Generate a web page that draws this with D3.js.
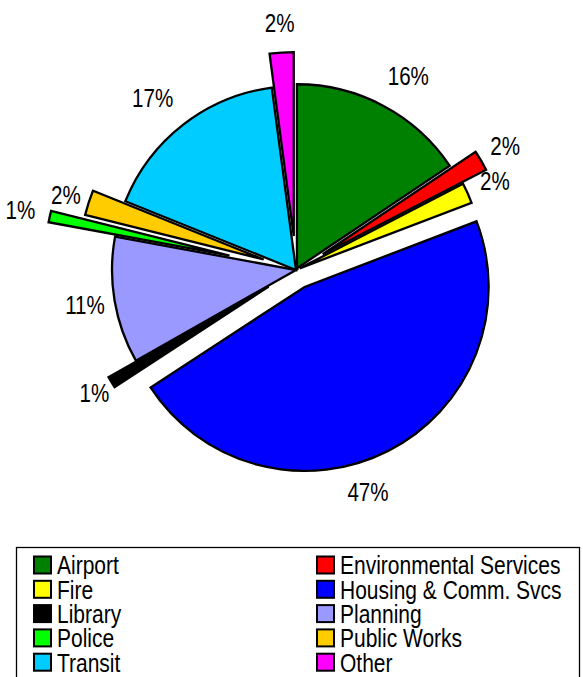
<!DOCTYPE html>
<html><head><meta charset="utf-8">
<script src="https://cdn.jsdelivr.net/npm/d3@7"></script>
<style>body{margin:0;background:#fff}svg{display:block}</style>
</head><body>
<script>
const categories = ["Airport","Environmental Services","Fire","Housing & Comm. Svcs","Library","Planning","Police","Public Works","Transit","Other"];
const values = [15.6,1.8,1.8,46.6,1.0,11.1,1.0,2.2,16.8,2.1];
const colors = ["#008000","#ff0000","#ffff00","#0000ff","#000000","#9999ff","#00ff00","#ffcc00","#00ccff","#ff00ff"];
const explode = [2,31,4,19,32,0,68,34,0,34];

// label placement tweaks (style)
const labelAngleNudge = {"Housing & Comm. Svcs": 9, "Airport": 2, "Transit": -2};
const labelGap = {"Airport": 38, "Transit": 40, "Library": 20, "Public Works": 24, "Environmental Services": 28};

const W = 583, H = 677;
const cx = 296, cy = 270, R = 184;
const FONT = "'Liberation Sans Narrow','Arial Narrow','Liberation Sans',Arial,sans-serif";

const svg = d3.select("body").append("svg").attr("width", W).attr("height", H);

// detect narrow font availability
const probe = svg.append("text").attr("font-family", FONT).attr("font-size", 26).text("Environmental Services");
const pw = probe.node().getComputedTextLength();
probe.remove();
const sx = pw > 26 * 9.3 ? (26 * 8.65) / pw : 1;

const total = d3.sum(values);
const pie = d3.pie().sort(null).value(d => d)(values);
const arc = d3.arc().innerRadius(0).outerRadius(R);

const g = svg.append("g").attr("transform", `translate(${cx},${cy})`);
g.selectAll("path").data(pie).join("path")
  .attr("d", arc)
  .attr("fill", (d, i) => colors[i])
  .attr("stroke", "#000").attr("stroke-width", 2.3).attr("stroke-linejoin", "miter")
  .attr("transform", (d, i) => {
    const m = (d.startAngle + d.endAngle) / 2;
    return `translate(${Math.sin(m) * explode[i]},${-Math.cos(m) * explode[i]})`;
  });

function fmt(v) { return Math.round(v / total * 100) + "%"; }

g.selectAll("text.lbl").data(pie).join("text")
  .attr("class", "lbl")
  .attr("font-family", FONT).attr("font-size", 25).attr("text-anchor", "middle")
  .attr("transform", (d, i) => {
    const c = categories[i];
    const m = (d.startAngle + d.endAngle) / 2 + (labelAngleNudge[c] || 0) * Math.PI / 180;
    const rr = R + explode[i] + (labelGap[c] !== undefined ? labelGap[c] : 30);
    return `translate(${Math.sin(m) * rr},${-Math.cos(m) * rr + 9}) scale(${sx},1)`;
  })
  .text(d => fmt(d.value));

// legend
svg.append("rect").attr("x", 16.5).attr("y", 547.5).attr("width", 563).attr("height", 200)
  .attr("fill", "none").attr("stroke", "#000").attr("stroke-width", 1.3);

const lg = svg.append("g");
const colX = [34, 317];
const items = lg.selectAll("g").data(categories).join("g")
  .attr("transform", (d, i) => `translate(${colX[i % 2]},${565 + Math.floor(i / 2) * 24.3})`);
items.append("rect").attr("x", 0).attr("y", -8.5).attr("width", 17).attr("height", 17)
  .attr("fill", (d, i) => colors[i]).attr("stroke", "#000").attr("stroke-width", 2);
items.append("text").attr("font-family", FONT).attr("font-size", 25.5)
  .attr("transform", `translate(23,9.3) scale(${sx},1)`)
  .text(d => d);
</script>
</body></html>
